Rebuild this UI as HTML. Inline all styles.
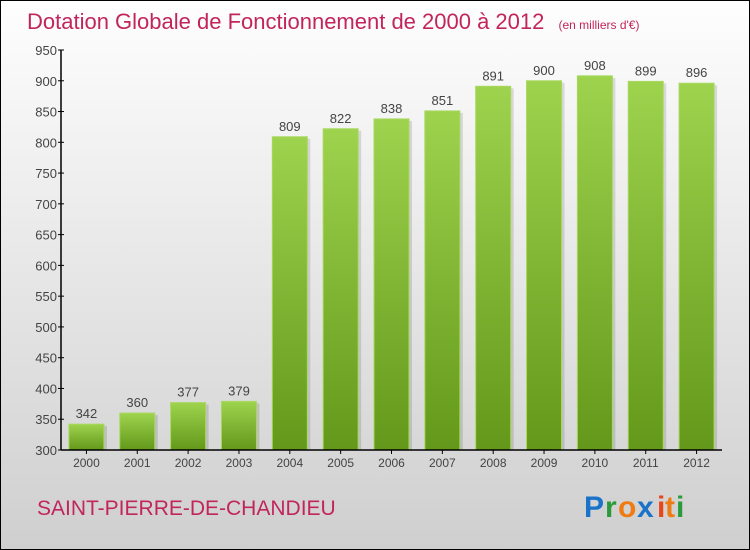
<!DOCTYPE html>
<html><head><meta charset="utf-8"><style>
body{margin:0;}
#c{position:relative;width:748px;height:548px;border:1px solid #000;background:linear-gradient(#fefefe,#cfcfcf);overflow:hidden;font-family:"Liberation Sans",sans-serif;}
svg text{font-family:"Liberation Sans",sans-serif;}
</style></head><body>
<div id="c">
<svg id="s" width="748" height="548">
<defs>
<linearGradient id="g" x1="0" y1="0" x2="0" y2="1"><stop offset="0" stop-color="#9ed34e"/><stop offset="1" stop-color="#63981a"/></linearGradient>
</defs>
<text x="26" y="28" font-size="22" fill="#c2255c">Dotation Globale de Fonctionnement de 2000 à 2012 <tspan font-size="12" dx="8">(en milliers d'€)</tspan></text>
<g id="bars"></g>
<g id="axes"></g>
<text x="36" y="514" font-size="21" fill="#c2255c">SAINT-PIERRE-DE-CHANDIEU</text>
<g font-size="30" font-weight="bold" font-family="Liberation Sans">
<text x="583" y="516" fill="#1a73c9">P</text><text x="604" y="516" fill="#2a9a3a">r</text><text x="617" y="516" fill="#f07b12">o</text><text x="636" y="516" fill="#1a73c9">x</text><text x="656" y="516" fill="#e8451a">i</text><text x="664" y="516" fill="#f07b12">t</text><text x="675" y="516" fill="#2a9a3a">i</text>
</g>
</svg></div>
<script>
const years=["2000","2001","2002","2003","2004","2005","2006","2007","2008","2009","2010","2011","2012"];
const values=[342,360,377,379,809,822,838,851,891,900,908,899,896];
const ticks=[300,350,400,450,500,550,600,650,700,750,800,850,900,950];
const NS="http://www.w3.org/2000/svg";
const x0=60,x1=721,y0=449,yMin=300,yMax=950,yTop=49;
const band=(x1-x0)/years.length;
const Y=v=>y0-(v-yMin)/(yMax-yMin)*(y0-yTop);
const X=i=>x0+band*i+band/2;
function mk(t,a,p){const e=document.createElementNS(NS,t);for(const k in a)e.setAttribute(k,a[k]);p.appendChild(e);return e;}
const B=document.getElementById('bars'),A=document.getElementById('axes');
values.forEach((v,i)=>{
 const sh=mk('rect',{x:X(i)-17.5+3,y:Y(v)+2,width:35,height:y0-Y(v)-2,fill:'#000','fill-opacity':0.12},B);
 
 
 const r=mk('rect',{x:X(i)-17.5,y:Y(v),width:35,height:y0-Y(v),fill:'url(#g)',stroke:'#a8d860','stroke-width':1},B);
 
 
 const t=mk('text',{x:X(i),y:Y(v)-6,'text-anchor':'middle','font-size':13,fill:'#444'},B);t.textContent=v;
 
 
 const xl=mk('text',{x:X(i),y:y0+17,'text-anchor':'middle','font-size':12,fill:'#444'},A);xl.textContent=years[i];
 
 
 mk('line',{x1:X(i),x2:X(i),y1:y0,y2:y0+4,stroke:'#000'},A);
});
ticks.forEach(v=>{
 mk('line',{x1:x0-3,x2:x0+3,y1:Y(v),y2:Y(v),stroke:'#000'},A);
 const t=mk('text',{x:x0-4,y:Y(v)+5,'text-anchor':'end','font-size':13,fill:'#444'},A);t.textContent=v;
 
 
});
const ya=mk('line',{x1:x0,x2:x0,y1:yTop,y2:y0,stroke:'#000','stroke-width':1.5},A);


const xa=mk('line',{x1:x0,x2:x1,y1:y0,y2:y0,stroke:'#000','stroke-width':1.5},A);


</script>
</body></html>
